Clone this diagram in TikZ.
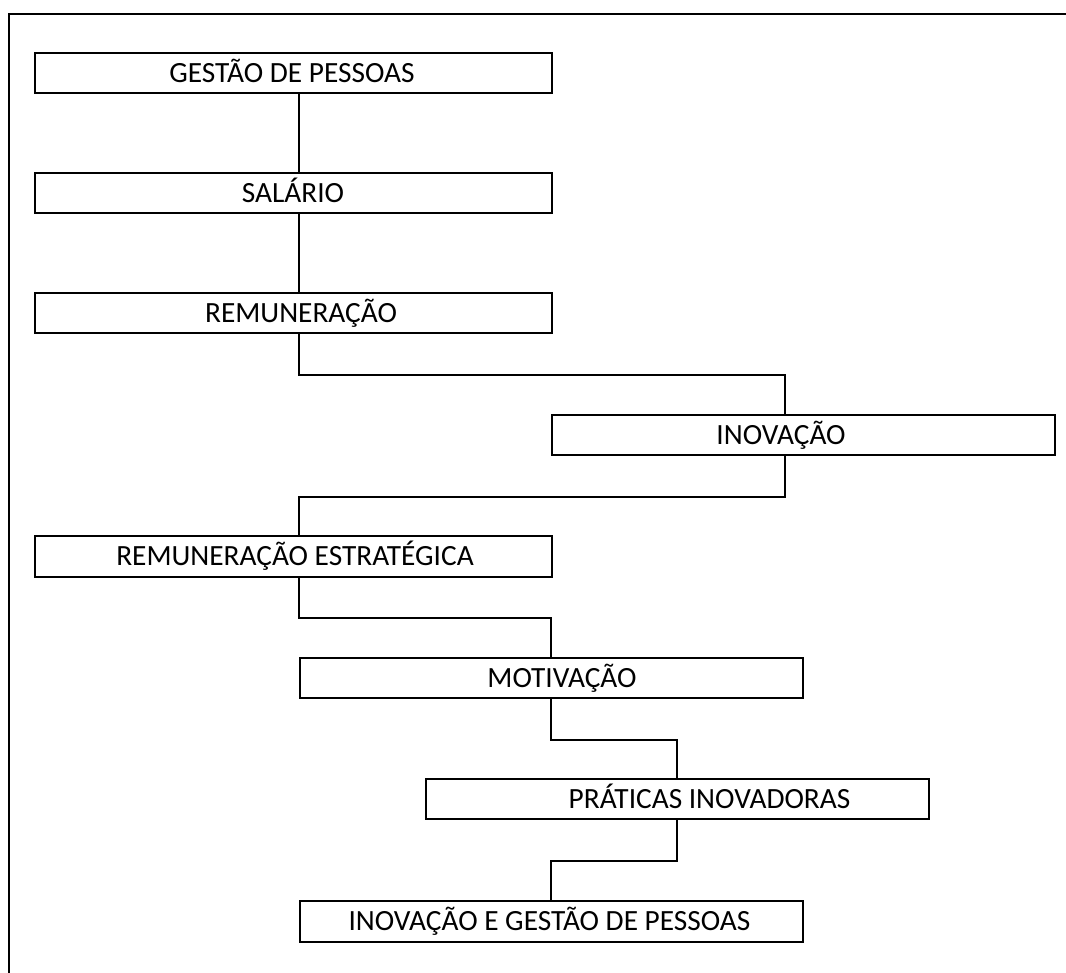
\documentclass[tikz,border=0pt]{standalone}
\usepackage{fontspec}
\setmainfont{Carlito}
\usetikzlibrary{calc}
\begin{document}
\begin{tikzpicture}[x=0.75pt,y=-0.75pt,
  box/.style={draw,line width=1.6pt,rectangle,inner sep=0pt,anchor=north west,
    minimum width=387.75pt,minimum height=30pt},
  narrow/.style={minimum width=377.25pt},
  lbl/.style={anchor=base,inner sep=0pt,font=\fontsize{22}{26}\selectfont},
  conn/.style={line width=1.6pt},
  frame/.style={line width=2.2pt}]
\useasboundingbox (0,0) rectangle (1066,972);
\coordinate (fnw) at (9,14);
\coordinate (fne) at (1070,14);
\coordinate (fsw) at (9,976);
\draw[frame] (fne) -- (fnw) -- (fsw);

\node[box] (b1) at (34,52) {};
\node[box] (b2) at (34,172) {};
\node[box] (b3) at (34,292) {};
\node[box,narrow] (b4) at (551,414) {};
\node[box,minimum height=30.75pt] (b5) at (34,535) {};
\node[box,narrow] (b6) at (299,657) {};
\node[box,narrow] (b7) at (425,778) {};
\node[box,narrow,minimum height=30.75pt] (b8) at (299,900) {};

\node[lbl] (t1) at (292,82.7) {GESTÃO DE PESSOAS};
\node[lbl] (t2) at (293,202.7) {SALÁRIO};
\node[lbl] (t3) at (301,322.7) {REMUNERAÇÃO};
\node[lbl] (t4) at (781,444.7) {INOVAÇÃO};
\node[lbl] (t5) at (295,565.7) {REMUNERAÇÃO ESTRATÉGICA};
\node[lbl] (t6) at (562,687.7) {MOTIVAÇÃO};
\node[lbl] (t7) at (709.5,808.7) {PRÁTICAS INOVADORAS};
\node[lbl] (t8) at (549.5,930.7) {INOVAÇÃO E GESTÃO DE PESSOAS};

\draw[conn] ($(b1.south west)+(265,0)$) -- ($(b2.north west)+(265,0)$);
\draw[conn] ($(b2.south west)+(265,0)$) -- ($(b3.north west)+(265,0)$);
\draw[conn] ($(b3.south west)+(265,0)$) -- ++(0,41) -| ($(b4.north west)+(234,0)$);
\draw[conn] ($(b4.south west)+(234,0)$) -- ++(0,41) -| ($(b5.north west)+(265,0)$);
\draw[conn] ($(b5.south west)+(265,0)$) -- ++(0,40) -| ($(b6.north west)+(252,0)$);
\draw[conn] ($(b6.south west)+(252,0)$) -- ++(0,41) -| ($(b7.north west)+(252,0)$);
\draw[conn] ($(b7.south west)+(252,0)$) -- ++(0,41) -| ($(b8.north west)+(252,0)$);
\end{tikzpicture}
\end{document}
